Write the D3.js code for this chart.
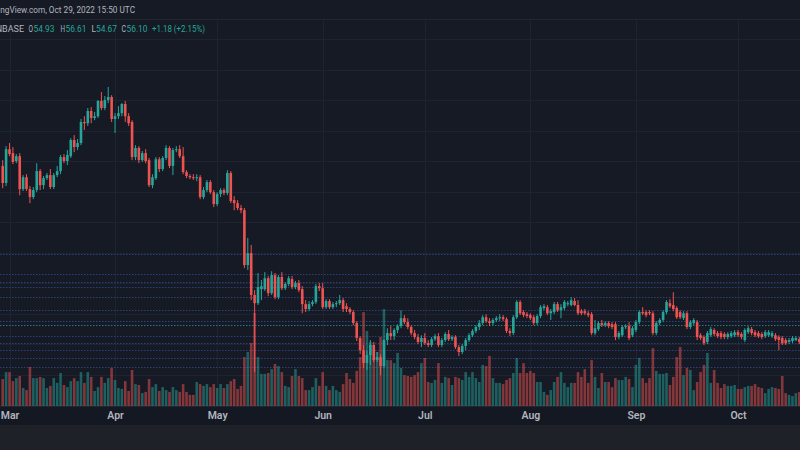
<!DOCTYPE html>
<html><head><meta charset="utf-8">
<script src="https://cdn.jsdelivr.net/npm/d3@7"></script>
<style>html,body{margin:0;padding:0;background:#161a25;overflow:hidden}svg{display:block}</style>
</head><body>
<svg id="chart" width="800" height="450"></svg>
<script>
// ---- data ----
const dates = d3.utcDay.range(new Date(Date.UTC(2022,1,27)), new Date(Date.UTC(2022,9,21)));
const open = [
108.4,102.8,113.9,112.6,110.0,111.6,100.8,104.7,100.8,98.2,
100.5,106.7,102.1,104.4,105.4,101.5,105.4,106.7,111.3,110.0,
111.6,116.9,114.6,115.9,122.8,122.4,126.4,124.1,124.7,129.7,
127.4,130.0,131.0,123.8,124.7,125.7,128.7,124.7,122.8,111.3,
114.3,110.3,112.6,110.3,102.1,104.4,110.6,107.4,111.0,114.3,
108.4,113.6,113.9,111.6,106.4,105.1,104.7,104.4,104.7,98.2,
100.5,103.1,99.8,95.9,99.2,100.5,99.5,106.1,97.2,96.2,
94.6,93.9,75.9,79.8,66.1,63.4,68.0,68.0,71.6,66.7,
72.6,65.4,72.0,68.3,69.7,71.3,68.7,70.0,68.0,63.1,
61.5,63.1,63.8,69.0,68.3,62.1,64.1,62.1,63.1,63.4,
64.4,62.4,61.5,60.5,56.9,52.0,48.0,43.8,46.4,49.7,
44.8,45.7,42.8,51.3,53.6,52.6,54.6,55.9,58.5,57.2,
55.6,53.6,52.3,50.7,52.0,50.3,49.7,51.6,52.6,49.7,
51.3,53.3,51.6,52.3,49.0,47.4,49.4,51.3,52.9,54.3,
55.6,56.9,58.8,57.5,56.9,57.9,58.5,58.8,58.2,54.3,
53.6,58.8,63.8,60.5,59.8,59.5,58.8,56.9,59.2,61.8,
62.1,60.1,60.5,63.1,61.1,61.8,63.1,62.8,64.1,62.8,
60.8,60.8,60.1,59.8,53.6,54.9,56.9,56.2,56.9,56.5,
56.5,52.3,52.9,55.6,55.9,52.9,54.6,57.2,60.5,60.5,
60.5,60.1,53.6,56.9,57.9,60.5,63.4,62.8,61.8,60.5,
58.5,60.1,55.6,56.9,57.2,52.9,52.3,50.7,52.9,54.6,
53.6,53.6,53.3,52.3,52.6,52.9,53.9,53.3,51.3,53.9,
54.9,53.9,53.6,53.3,52.6,52.9,52.6,52.9,52.3,52.0,
51.3,50.7,51.0,51.3,51.6,51.3];
const close = [
102.8,113.9,112.3,109.7,111.6,100.8,104.7,100.8,98.2,100.5,
106.7,102.1,104.4,105.4,101.5,105.4,106.7,111.3,110.0,112.0,
116.9,114.6,115.9,122.8,122.4,126.4,124.1,124.7,129.7,127.4,
130.0,131.0,123.8,124.7,125.7,128.7,124.7,122.4,111.3,114.3,
110.3,112.6,110.0,102.1,104.7,110.6,107.4,111.0,114.3,108.4,
113.6,113.9,111.6,106.4,105.1,104.7,104.4,104.7,98.2,100.5,
103.1,99.8,95.9,99.2,100.5,99.5,106.1,96.9,96.2,94.6,
93.9,75.9,79.8,66.1,63.4,68.7,69.0,71.6,66.7,72.6,
65.4,72.0,68.3,69.7,71.6,68.7,70.0,67.7,63.1,61.5,
63.1,63.8,69.0,68.3,62.1,64.1,62.1,63.1,63.4,64.4,
61.5,61.5,60.5,56.9,52.0,48.0,43.8,46.4,49.7,44.8,
45.7,42.8,51.3,53.6,52.6,54.6,55.9,58.5,57.2,55.6,
53.6,52.3,50.7,52.0,50.3,49.7,51.6,52.6,49.7,51.3,
53.3,51.6,52.3,49.0,47.4,49.4,51.3,52.9,54.3,55.6,
56.9,58.8,57.5,56.9,57.9,58.5,58.8,58.2,54.3,53.6,
58.8,63.8,60.1,59.5,59.2,58.5,56.9,59.2,62.1,62.4,
60.1,60.8,63.1,61.1,62.1,63.8,63.4,64.4,62.8,60.1,
60.1,60.1,59.5,53.6,55.2,56.9,56.2,56.9,55.9,55.6,
52.3,53.6,55.6,55.9,52.0,55.2,57.2,60.5,60.1,59.5,
60.1,53.6,56.9,57.9,60.5,63.8,62.4,61.5,58.8,58.8,
60.1,55.6,57.2,57.9,52.3,52.0,50.3,53.6,54.9,53.3,
52.6,52.3,52.3,53.3,53.6,53.9,52.9,52.3,54.6,55.2,
53.6,52.9,52.6,52.3,53.9,53.9,53.6,51.6,51.3,50.3,
50.3,51.3,52.0,52.0,50.7,50.7];
const high = [
110.3,114.9,115.9,114.6,112.3,112.6,105.4,105.7,101.8,101.5,
109.3,107.4,105.1,106.1,107.4,106.1,108.4,112.0,112.3,113.6,
117.5,118.5,117.2,123.8,124.7,127.4,127.7,126.1,130.0,132.6,
131.3,134.3,131.6,125.7,128.0,129.0,129.7,125.7,123.4,115.2,
114.9,113.3,113.9,111.0,105.7,111.3,111.3,111.6,115.2,114.9,
114.3,114.9,115.2,114.6,107.0,105.7,105.7,105.7,105.4,101.5,
103.8,103.8,100.5,99.8,101.1,101.1,107.0,106.7,98.5,97.2,
95.6,94.6,84.8,82.5,67.7,73.3,71.0,73.6,72.3,73.9,
73.3,72.6,73.6,70.3,72.3,72.3,70.7,71.0,69.0,64.4,
64.1,64.4,69.7,70.0,70.0,64.7,64.7,63.8,64.1,66.1,
65.1,63.4,62.1,61.1,57.5,52.6,49.7,47.7,51.3,50.7,
47.4,46.7,51.6,55.2,55.9,55.2,56.5,61.1,59.5,58.5,
56.2,54.6,53.3,52.9,53.6,51.3,52.3,53.3,53.6,52.0,
53.9,54.6,52.9,52.9,49.7,50.0,52.0,53.6,54.9,56.2,
57.9,59.5,59.8,58.5,58.5,59.2,59.8,59.5,58.8,55.2,
59.5,64.4,64.4,61.1,60.5,60.1,59.5,59.8,62.8,63.1,
62.8,61.5,63.8,63.8,63.1,64.4,64.1,65.4,65.1,64.4,
61.5,61.5,60.8,60.5,57.9,57.5,57.9,57.5,57.5,57.2,
57.2,54.3,56.2,56.5,57.2,55.9,57.9,61.1,62.1,61.1,
61.1,60.8,57.5,58.5,61.1,64.4,64.7,67.0,62.4,61.1,
60.8,60.8,57.9,58.5,57.9,53.6,52.9,54.3,55.6,55.2,
54.3,54.3,53.9,53.9,54.3,54.6,54.6,53.9,55.2,55.9,
55.6,54.6,54.3,53.9,54.6,54.6,54.3,53.6,52.9,52.6,
52.0,52.0,52.6,52.6,52.3,52.0];
const low = [
101.1,101.8,111.6,109.0,109.3,98.8,100.2,100.2,96.2,97.5,
99.8,100.5,100.8,103.8,100.8,100.8,104.7,105.7,109.3,108.7,
111.0,112.9,113.6,115.2,120.2,121.5,122.4,123.4,124.1,126.7,
126.7,129.0,122.8,119.2,123.8,124.7,122.8,121.5,110.3,110.3,
109.3,109.7,109.3,101.5,101.1,103.8,106.4,106.7,110.3,107.7,
105.4,112.9,111.0,105.7,104.4,104.1,103.8,103.4,97.5,97.5,
99.8,99.2,94.9,95.2,98.2,98.8,98.8,96.2,93.9,93.9,
92.9,74.9,74.3,64.4,40.8,62.8,64.4,67.4,65.7,66.1,
64.7,64.7,67.7,67.7,69.0,68.0,68.0,67.0,60.1,60.5,
60.8,62.4,63.1,67.4,61.5,61.5,61.5,61.5,62.1,62.8,
60.5,60.5,59.8,56.2,51.0,46.7,42.1,41.5,43.1,44.1,
44.1,39.8,42.1,49.7,51.3,51.3,53.6,55.2,56.5,54.9,
52.9,51.6,50.0,49.0,49.7,49.0,49.0,51.0,49.0,49.0,
50.7,51.0,51.0,48.4,46.1,46.7,48.0,50.7,52.3,53.6,
54.6,56.2,56.9,55.9,56.2,57.2,57.5,57.5,53.6,52.6,
52.9,58.2,59.5,58.8,58.5,57.9,56.2,56.2,58.5,61.1,
59.5,57.9,59.8,60.5,58.5,61.1,62.4,62.4,62.4,59.5,
59.5,59.5,58.8,52.9,52.9,54.3,55.6,55.6,55.2,54.9,
51.3,51.6,52.3,54.9,51.3,52.3,53.9,56.5,59.5,58.8,
59.5,52.9,52.9,56.2,57.2,59.8,61.8,60.8,58.2,58.2,
57.9,54.9,54.9,56.2,51.3,51.3,49.7,50.0,52.3,52.6,
52.0,51.6,51.6,51.6,52.0,52.3,52.3,51.6,50.7,53.3,
52.9,52.3,52.0,51.6,52.0,52.3,52.0,51.0,48.0,49.7,
49.7,50.0,50.3,51.0,50.0,50.0];
// volume, millions of LTC
const volume = [
0.90,1.13,1.13,0.83,0.93,1.00,0.60,0.53,1.30,0.93,
0.93,0.97,0.93,0.60,0.67,0.93,0.77,1.10,0.70,0.63,
0.83,0.93,0.83,1.13,0.77,1.13,0.97,0.50,0.63,0.97,
0.77,0.93,1.27,0.87,0.60,0.57,0.83,0.50,1.20,0.73,
0.70,0.43,0.47,0.90,0.63,0.73,0.50,0.63,0.53,0.47,
0.63,0.53,0.47,0.73,0.47,0.37,0.37,0.80,0.73,0.67,
0.73,0.63,0.73,0.60,0.73,0.60,0.73,0.83,0.90,0.57,
0.67,
1.63,1.80,2.10,3.10,1.63,1.07,1.07,1.10,1.23,1.40,
1.33,1.13,0.67,0.63,1.00,1.23,1.00,0.93,0.53,0.53,
0.63,0.93,0.67,1.13,0.67,0.53,0.67,0.53,0.47,0.73,
1.10,0.90,0.77,1.17,1.63,3.13,2.50,2.13,1.60,1.80,
2.30,3.23,1.53,1.53,1.43,1.77,1.27,1.03,1.00,0.97,
1.03,1.13,1.43,1.60,0.80,0.77,0.87,1.43,0.77,0.97,
0.93,0.70,0.97,0.93,0.87,1.13,0.97,1.13,0.93,0.80,
1.37,1.33,1.67,0.93,0.77,0.77,0.73,0.87,0.93,1.10,
1.60,
1.10,1.43,1.10,1.17,1.10,0.80,0.80,0.47,0.37,0.53,
0.80,0.97,1.13,0.77,0.63,0.77,0.77,1.13,0.97,1.23,
0.77,1.53,0.97,0.60,1.10,0.80,0.80,0.63,0.93,0.87,
0.87,0.97,0.90,0.63,1.37,1.60,0.93,0.77,0.93,1.93,
1.17,1.07,1.07,1.10,0.70,0.97,1.63,1.97,1.03,1.27,
1.20,0.53,0.80,1.13,1.37,1.77,0.77,1.20,0.77,0.60,
0.73,0.67,0.67,0.70,0.57,0.57,0.63,0.67,0.67,0.73,
0.63,0.60,0.43,0.57,0.63,0.60,0.57,1.00,0.43,0.37,
0.33,0.43,0.47,0.43];
const monthLabels = ["Mar","Apr","May","Jun","Jul","Aug","Sep","Oct"];
const levelPrices = [79.5,73.0,70.2,68.6,65.3,61.1,57.5,52.6,50.2,47.9,45.4,42.5];
const lastPrice = 56.10;
const headerLine1 = "TradingView.com, Oct 29, 2022 15:50 UTC";
const symbolText = "Litecoin / U.S. Dollar, 1D, COINBASE";
const ohlcKeys = ["O","H","L","C"];
const ohlcVals = ["54.93","56.61","54.67","56.10"];
const changeText = "+1.18 (+2.15%)";

// ---- drawing ----
const W = 800, H = 450, plotBottom = 406, headerH = 19;
const svg = d3.select("#chart");
const UP = "#26a69a", DOWN = "#ef5350";

const x = d3.scaleUtc()
  .domain([new Date(Date.UTC(2022,2,1)), new Date(Date.UTC(2022,9,1))])
  .range([9.5, 738]);
const y = d3.scaleLinear().domain([29.7, 162.8]).range([plotBottom, 0]);
const yv = d3.scaleLinear().domain([0, 3.5]).range([plotBottom, plotBottom - 105]);

svg.append("rect").attr("width", W).attr("height", H).attr("fill", "#161a25");
svg.append("rect").attr("y", plotBottom).attr("width", W).attr("height", 19).attr("fill", "#141823");
svg.append("rect").attr("y", 425).attr("width", W).attr("height", 25).attr("fill", "#1f2129");

const monthTicks = d3.utcMonth.range(new Date(Date.UTC(2022,2,1)), new Date(Date.UTC(2022,9,2)));

// grid
const grid = svg.append("g").attr("stroke", "#1f2330").attr("stroke-width", 1);
grid.selectAll("line.h").data(d3.range(30, 170, 10)).join("line")
  .attr("x1", 0).attr("x2", W)
  .attr("y1", d => Math.round(y(d)) + 0.5).attr("y2", d => Math.round(y(d)) + 0.5);
grid.selectAll("line.v").data(monthTicks).join("line")
  .attr("y1", headerH).attr("y2", plotBottom)
  .attr("x1", d => Math.round(x(d)) + 0.5).attr("x2", d => Math.round(x(d)) + 0.5);

// drawn levels
svg.append("g").selectAll("line").data(levelPrices).join("line")
  .attr("x1", 0).attr("x2", W)
  .attr("y1", d => Math.round(y(d)) + 0.5).attr("y2", d => Math.round(y(d)) + 0.5)
  .attr("stroke", "#2b3f7e").attr("stroke-width", 1).attr("stroke-dasharray", "1.5,1.5");

const data = dates.map((d, i) => ({d, o: open[i], h: high[i], l: low[i], c: close[i], v: volume[i]}));
const bw = 2.6;

// volume
svg.append("g").selectAll("rect").data(data).join("rect")
  .attr("x", d => x(d.d) - bw / 2).attr("width", bw)
  .attr("y", d => yv(d.v)).attr("height", d => plotBottom - yv(d.v))
  .attr("fill", d => d.c >= d.o ? "rgba(38,166,154,0.5)" : "rgba(239,83,80,0.5)");

// last price line
svg.append("line").attr("x1", 0).attr("x2", W)
  .attr("y1", Math.round(y(lastPrice)) + 0.5).attr("y2", Math.round(y(lastPrice)) + 0.5)
  .attr("stroke", UP).attr("stroke-opacity", 0.7).attr("stroke-dasharray", "1.5,1.5");

// candles
const cg = svg.append("g");
cg.selectAll("rect.w").data(data).join("rect")
  .attr("x", d => x(d.d) - 0.5).attr("width", 1)
  .attr("y", d => y(d.h)).attr("height", d => Math.max(1, y(d.l) - y(d.h)))
  .attr("fill", d => d.c >= d.o ? UP : DOWN);
cg.selectAll("rect.b").data(data).join("rect")
  .attr("x", d => x(d.d) - bw / 2).attr("width", bw)
  .attr("y", d => y(Math.max(d.o, d.c)))
  .attr("height", d => Math.max(1, Math.abs(y(d.o) - y(d.c))))
  .attr("fill", d => d.c >= d.o ? UP : DOWN);

// axis
svg.append("line").attr("x1", 0).attr("x2", W).attr("y1", plotBottom + 0.5).attr("y2", plotBottom + 0.5)
  .attr("stroke", "#22262f");
const ax = svg.append("g").attr("transform", `translate(0,${plotBottom})`)
  .call(d3.axisBottom(x).tickValues(monthTicks).tickFormat((d, i) => monthLabels[i]).tickSize(0).tickPadding(6));
ax.select(".domain").remove();
ax.selectAll("text").attr("fill", "#b2b5be").attr("font-size", "10.5px")
  .attr("font-weight", 600).attr("font-family", "Roboto, 'Noto Sans', sans-serif");

// header
svg.append("rect").attr("width", W).attr("height", headerH).attr("fill", "#161a25");
svg.append("line").attr("x1", 0).attr("x2", W).attr("y1", headerH + 0.5).attr("y2", headerH + 0.5).attr("stroke", "#22262f");
const font = "Roboto, 'Noto Sans', sans-serif";
const tmp = svg.append("text").attr("font-size", "9px").attr("font-family", font).text("Tradi");
const off = tmp.node().getComputedTextLength();
tmp.remove();
svg.append("text").attr("x", -off * 0.9).attr("y", 13).attr("font-size", "9px").attr("font-family", font)
  .attr("fill", "#b2b5be").attr("textLength", 135 + off * 0.9).attr("lengthAdjust", "spacingAndGlyphs")
  .text(headerLine1);

const t2 = svg.append("g").attr("font-size", "9px").attr("font-family", font);
t2.append("text").attr("x", 24).attr("y", 32).attr("text-anchor", "end").attr("fill", "#b2b5be").text(symbolText);
const keyX = [28.5, 60.5, 91.5, 121.5];
const valX = [33.5, 65.5, 96, 126.5];
ohlcKeys.forEach((k, i) => {
  t2.append("text").attr("x", keyX[i]).attr("y", 32).attr("fill", "#b2b5be")
    .attr("textLength", 4.5).attr("lengthAdjust", "spacingAndGlyphs").text(k);
  t2.append("text").attr("x", valX[i]).attr("y", 32).attr("fill", UP)
    .attr("textLength", 21).attr("lengthAdjust", "spacingAndGlyphs").text(ohlcVals[i]);
});
t2.append("text").attr("x", 152).attr("y", 32).attr("fill", UP).attr("textLength", 53).attr("lengthAdjust", "spacingAndGlyphs").text(changeText);
</script>
</body></html>
